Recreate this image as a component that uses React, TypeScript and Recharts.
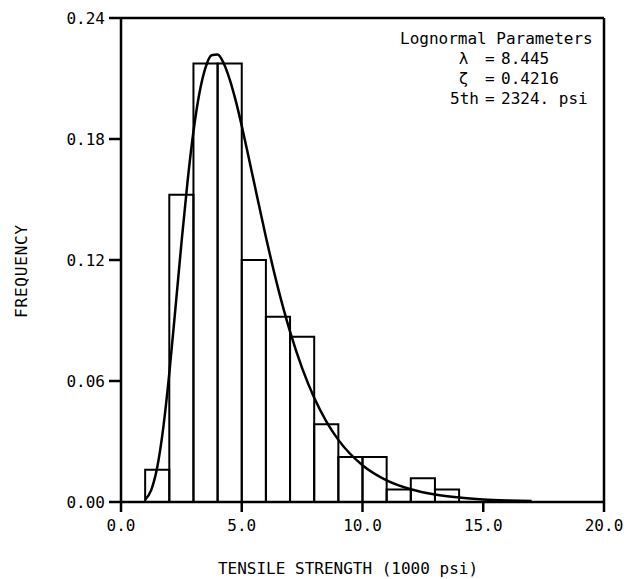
import React from "react";
import {
  ComposedChart,
  Line,
  ReferenceArea,
  ReferenceLine,
  XAxis,
  YAxis,
} from "recharts";

// histogram bins (1000 psi) and their frequencies
const binLow = [1, 2, 3, 4, 5, 6, 7, 8, 9, 10, 11, 12, 13];
const binHigh = [2, 3, 4, 5, 6, 7, 8, 9, 10, 11, 12, 13, 14];
const binFreq = [
  0.016, 0.1523, 0.2174, 0.2174, 0.12, 0.0918, 0.0819, 0.0385, 0.0223, 0.0223,
  0.0062, 0.0118, 0.0062,
];

// fitted lognormal curve
const curveX = [
  1.0, 1.25, 1.5, 1.75, 2.0, 2.25, 2.5, 2.75, 3.0, 3.25, 3.5, 3.75, 4.0, 4.25,
  4.5, 4.75, 5.0, 5.25, 5.5, 6.0, 6.5, 7.0, 7.5, 8.0, 8.5, 9.0, 10, 11, 12, 13,
  14, 15, 16, 17,
];
const curveF = [
  0.0012, 0.0059, 0.0172, 0.0368, 0.0638, 0.0955, 0.128, 0.1583, 0.1837,
  0.2029, 0.2154, 0.2215, 0.2219, 0.2176, 0.2096, 0.199, 0.1865, 0.1729, 0.159,
  0.1314, 0.1062, 0.0845, 0.0664, 0.0517, 0.04, 0.0308, 0.0182, 0.0107, 0.0063,
  0.0037, 0.0022, 0.0013, 0.0008, 0.0005,
];

const xTicks = [0, 5, 10, 15, 20];
const yTicks = [0, 0.06, 0.12, 0.18, 0.24];

const FONT = "DejaVu Sans Mono, Liberation Mono, monospace";
const INK = "#000";

const curveData = curveX.map((x, i) => ({ x, f: curveF[i] }));

export default function App() {
  const tickStyle = { fill: INK, fontSize: 16, fontFamily: FONT };
  const axisStroke = { stroke: INK, strokeWidth: 2.5 };

  return (
    <div style={{ position: "absolute", left: 0, top: 0, width: 624, height: 579, background: "#fff" }}>
      <ComposedChart
        width={624}
        height={579}
        data={curveData}
        margin={{ top: 18, right: 20, bottom: 37, left: 61 }}
      >
        <XAxis
          dataKey="x"
          type="number"
          domain={[0, 20]}
          ticks={xTicks}
          allowDataOverflow
          tick={tickStyle}
          tickFormatter={(v: number) => v.toFixed(1)}
          tickSize={10}
          tickMargin={8}
          height={40}
          axisLine={axisStroke}
          tickLine={axisStroke}
        />
        <YAxis
          type="number"
          domain={[0, 0.24]}
          ticks={yTicks}
          allowDataOverflow
          tick={tickStyle}
          tickFormatter={(v: number) => v.toFixed(2)}
          tickSize={12}
          tickMargin={4}
          width={60}
          axisLine={axisStroke}
          tickLine={axisStroke}
        />
        <ReferenceLine y={0.24} stroke={INK} strokeWidth={2.5} ifOverflow="visible" />
        <ReferenceLine x={20} stroke={INK} strokeWidth={2.5} ifOverflow="visible" />
        {binFreq.map((f, i) => (
          <ReferenceArea
            key={i}
            x1={binLow[i]}
            x2={binHigh[i]}
            y1={0}
            y2={f}
            stroke={INK}
            strokeWidth={2}
            fill="none"
            fillOpacity={0}
            ifOverflow="visible"
          />
        ))}
        <Line
          type="monotone"
          dataKey="f"
          stroke={INK}
          strokeWidth={2.5}
          dot={false}
          isAnimationActive={false}
        />
      </ComposedChart>
      <svg
        width={624}
        height={579}
        style={{ position: "absolute", left: 0, top: 0, pointerEvents: "none" }}
        fontFamily={FONT}
        fontSize={16}
        fill={INK}
      >
        <text x={400} y={44}>Lognormal Parameters</text>
        <text x={463.5} y={64} textAnchor="middle">λ</text>
        <text x={485} y={64}>=</text>
        <text x={501} y={64}>8.445</text>
        <text x={463.5} y={84} textAnchor="middle">ζ</text>
        <text x={485} y={84}>=</text>
        <text x={501} y={84}>0.4216</text>
        <text x={450} y={103.5}>5th</text>
        <text x={485} y={103.5}>=</text>
        <text x={501} y={103.5}>2324. psi</text>

        <text x={348} y={574} textAnchor="middle">TENSILE STRENGTH (1000 psi)</text>
        <text
          x={0}
          y={0}
          textAnchor="middle"
          letterSpacing={0.8}
          transform="translate(27 271) rotate(-90)"
        >
          FREQUENCY
        </text>
      </svg>
    </div>
  );
}
